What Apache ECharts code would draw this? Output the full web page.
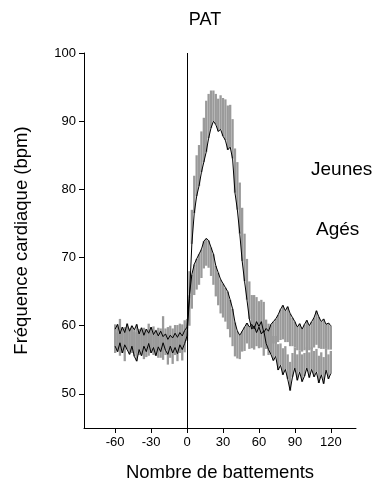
<!DOCTYPE html>
<html>
<head>
<meta charset="utf-8">
<script src="https://cdn.jsdelivr.net/npm/echarts@6/dist/echarts.min.js"></script>
<style>
  html, body { margin: 0; padding: 0; background: #fff; }
  #chart { width: 379px; height: 488px; }
</style>
</head>
<body>
<div id="chart"></div>
<script>
// Beat index relative to the event (every 2nd beat)
const beats = [];
for (let b = -60; b <= 120; b += 2) beats.push(b);

// Young subjects: mean heart rate (bpm) and upper error
const jeunesMean = [
  57.0, 56.2, 57.5, 56.0, 57.2, 56.5, 55.8, 57.0, 55.5, 54.8,
  56.5, 55.6, 57.0, 56.2, 57.4, 56.0, 56.8, 55.6, 56.9, 56.2,
  57.5, 56.4, 55.8, 57.0, 56.0, 56.8, 55.9, 57.2, 56.5, 57.4,
  58.5, 64.0, 72.0, 76.5, 79.0, 80.5, 82.5, 84.0, 85.5, 87.5,
  89.0, 90.0, 89.5, 88.5, 88.8, 87.8, 87.2, 85.8, 86.2, 84.5,
  79.5, 77.0, 73.5, 69.5, 66.5, 63.8, 61.0, 59.5, 60.0, 59.0,
  59.8, 58.8, 59.3, 57.4, 56.5, 55.8, 54.9, 55.5, 53.5, 54.2,
  52.8, 53.6, 52.2, 50.5, 52.5, 53.8, 52.0, 53.2, 51.8, 52.6,
  53.8, 52.4, 53.6, 52.5, 53.2, 51.6, 52.8, 51.5, 53.5, 52.2,
  53.0
];
const jeunesErr = [
  3.2, 2.8, 3.5, 3.0, 2.6, 3.4, 3.8, 2.9, 3.6, 4.2,
  3.0, 3.5, 2.7, 3.3, 2.9, 3.6, 3.1, 3.8, 2.8, 3.4,
  3.9, 3.2, 4.0, 3.0, 3.6, 3.3, 4.2, 3.1, 3.7, 3.4,
  2.5, 4.0, 5.0, 5.5, 6.0, 6.0, 6.0, 6.5, 7.5, 6.5,
  5.5, 4.5, 4.5, 4.8, 5.0, 5.6, 6.0, 6.5, 6.2, 5.8,
  6.5, 7.0, 7.5, 7.8, 7.0, 6.0, 5.5, 5.0, 4.5, 5.2,
  3.8, 5.0, 4.2, 3.5, 3.8, 3.2, 3.6, 3.0, 3.8, 3.2,
  3.9, 3.4, 3.6, 4.2, 3.5, 3.0, 3.8, 3.2, 4.0, 3.4,
  3.0, 3.7, 3.2, 3.8, 3.4, 4.0, 3.3, 3.9, 3.1, 3.6,
  3.3
];

// Older subjects: mean heart rate (bpm) and lower error
const agesMean = [
  59.5, 60.2, 58.8, 59.8, 59.0, 60.3, 59.2, 60.0, 59.4, 60.2,
  58.8, 59.7, 58.6, 59.5, 58.9, 59.8, 58.7, 59.3, 58.5, 59.2,
  58.4, 58.8, 58.0, 58.6, 58.2, 58.9, 58.3, 59.0, 58.5, 59.3,
  59.8, 64.5, 67.5, 69.0, 69.8, 70.5, 71.2, 72.4, 72.8, 72.5,
  71.5, 70.5, 68.8, 67.8, 66.8, 66.2, 65.6, 65.0, 63.8, 62.5,
  60.5, 59.2, 58.6, 59.2, 59.8, 60.4, 59.8, 60.2, 59.5, 60.6,
  59.9, 60.6, 59.0, 59.6, 59.2, 60.2, 60.6, 61.0, 61.6, 62.4,
  63.0, 62.2, 62.8, 61.8, 61.2, 60.6, 59.8, 60.3, 59.5, 60.2,
  60.8, 60.0, 60.6, 61.2, 62.2, 61.3, 60.6, 61.0, 60.2, 60.4,
  60.0
];
const agesErr = [
  3.5, 4.0, 3.2, 3.8, 4.2, 3.6, 3.0, 4.0, 3.4, 3.8,
  3.1, 3.9, 3.5, 4.1, 3.3, 3.7, 3.0, 3.6, 3.2, 3.9,
  3.4, 3.1, 3.7, 3.3, 3.8, 3.2, 3.5, 3.0, 3.6, 3.2,
  2.0, 4.5, 5.0, 4.5, 4.5, 4.5, 4.2, 4.0, 4.0, 4.0,
  4.2, 4.5, 4.5, 4.8, 5.0, 5.0, 5.0, 5.5, 5.5, 5.5,
  5.0, 4.0, 3.5, 3.0, 3.5, 3.0, 3.2, 3.5, 3.0, 3.6,
  3.2, 3.8, 3.4, 3.0, 3.5, 3.8, 3.2, 3.6, 4.0, 4.5,
  5.0, 4.6, 5.2, 4.8, 4.2, 3.8, 3.4, 3.9, 3.3, 3.8,
  4.2, 3.6, 4.0, 4.4, 5.0, 4.6, 4.0, 4.4, 3.6, 3.9,
  3.5
];

// Axis ticks
const xTicks = [-60, -30, 0, 30, 60, 90, 120];
const yTicks = [50, 60, 70, 80, 90, 100];

const font = 'Liberation Sans, Arial, sans-serif';

// Error bars: [beat, mean, error, direction] (direction +1 up, -1 down)
const barsJeunes = beats.map((b, i) => [b, jeunesMean[i], jeunesErr[i], 1]);
const barsAges = beats.map((b, i) => [b, agesMean[i], agesErr[i], -1]);
const lineJeunes = beats.map((b, i) => [b, jeunesMean[i]]);
const lineAges = beats.map((b, i) => [b, agesMean[i]]);

function renderBar(params, api) {
  const x = api.value(0), m = api.value(1), e = api.value(2), d = api.value(3);
  const p1 = api.coord([x, m]);
  const p2 = api.coord([x, m + d * e]);
  return {
    type: 'line',
    shape: { x1: p1[0], y1: p1[1], x2: p2[0], y2: p2[1] },
    style: { stroke: '#9a9a9a', lineWidth: 2.3 }
  };
}

const chart = echarts.init(document.getElementById('chart'), null, { renderer: 'canvas' });
chart.setOption({
  animation: false,
  backgroundColor: '#fff',
  title: {
    text: 'PAT',
    left: 200, top: 6, textAlign: 'center',
    textStyle: { fontFamily: font, fontSize: 18, fontWeight: 'normal', color: '#000' }
  },
  grid: { left: 84, right: 23, top: 53, bottom: 60 },
  xAxis: {
    type: 'value', min: -86, max: 141,
    name: 'Nombre de battements', nameLocation: 'middle', nameGap: 35,
    nameTextStyle: { fontFamily: font, fontSize: 18.5, color: '#000' },
    axisLine: { show: true, onZero: false, lineStyle: { color: '#000', width: 1 } },
    axisTick: { show: true, length: 5, customValues: xTicks, lineStyle: { color: '#000' } },
    axisLabel: { customValues: xTicks, fontFamily: font, fontSize: 13, color: '#000', margin: 8 },
    splitLine: { show: false }
  },
  yAxis: {
    type: 'value', min: 45, max: 100,
    name: 'Fréquence cardiaque (bpm)', nameLocation: 'middle', nameGap: 53,
    nameTextStyle: { fontFamily: font, fontSize: 18.5, color: '#000' },
    axisLine: { show: true, onZero: false, lineStyle: { color: '#000', width: 1 } },
    axisTick: { show: true, length: 5, customValues: yTicks, lineStyle: { color: '#000' } },
    axisLabel: { customValues: yTicks, fontFamily: font, fontSize: 13, color: '#000', margin: 8 },
    splitLine: { show: false }
  },
  series: [
    { type: 'custom', renderItem: renderBar, data: barsAges, z: 1 },
    { type: 'custom', renderItem: renderBar, data: barsJeunes, z: 1 },
    {
      type: 'line', data: lineAges, showSymbol: false, z: 3,
      lineStyle: { color: '#000', width: 1 },
      markLine: {
        silent: true, symbol: 'none', label: { show: false },
        lineStyle: { color: '#000', width: 1, type: 'solid' },
        data: [{ xAxis: 0 }]
      }
    },
    { type: 'line', data: lineJeunes, showSymbol: false, z: 3, lineStyle: { color: '#000', width: 1 } }
  ],
  graphic: [
    { type: 'text', left: 311, top: 160, style: { text: 'Jeunes', font: '19px ' + font, fill: '#000' } },
    { type: 'text', left: 316, top: 220, style: { text: 'Agés', font: '19px ' + font, fill: '#000' } }
  ]
});
</script>
</body>
</html>
